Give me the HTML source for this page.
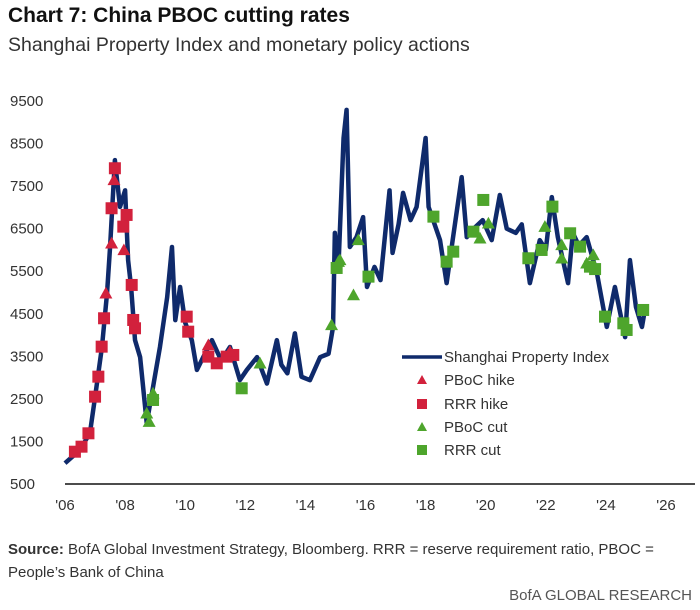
<!DOCTYPE html>
<html><head><meta charset="utf-8"><style>
body{margin:0;background:#fff;width:700px;height:610px;overflow:hidden;font-family:"Liberation Sans",sans-serif;}
.t{position:absolute;white-space:nowrap;color:#222}
</style></head><body>
<div class="t" style="left:8px;top:4px;font-size:21px;font-weight:bold;color:#111">Chart 7: China PBOC cutting rates</div>
<div class="t" style="left:8px;top:34px;font-size:19.5px;color:#333">Shanghai Property Index and monetary policy actions</div>
<svg id="c" width="700" height="530" style="position:absolute;left:0;top:0"></svg>
<div class="t" style="left:8px;top:538px;font-size:15px;line-height:23px;color:#333;white-space:normal;width:690px"><b>Source:</b> BofA Global Investment Strategy, Bloomberg. RRR = reserve requirement ratio, PBOC =<br>People’s Bank of China</div>
<div class="t" style="right:8px;top:587px;font-size:15px;color:#555">BofA GLOBAL RESEARCH</div>
<script>
const yTicks=[500,1500,2500,3500,4500,5500,6500,7500,8500,9500];
const xTicks=[2006,2008,2010,2012,2014,2016,2018,2020,2022,2024,2026];
const xLabels=["'06","'08","'10","'12","'14","'16","'18","'20","'22","'24","'26"];
const lineYears=[2006.0,2006.5,2006.83,2007.0,2007.23,2007.4,2007.5,2007.6,2007.66,2007.83,2008.0,2008.1,2008.2,2008.33,2008.5,2008.72,2008.93,2009.16,2009.4,2009.56,2009.67,2009.83,2010.0,2010.22,2010.39,2010.6,2010.89,2011.2,2011.49,2011.82,2012.05,2012.39,2012.72,2013.05,2013.2,2013.4,2013.65,2013.87,2014.15,2014.49,2014.77,2014.92,2014.98,2015.1,2015.27,2015.37,2015.48,2015.7,2015.92,2016.05,2016.3,2016.5,2016.8,2016.9,2017.1,2017.25,2017.5,2017.7,2018.0,2018.1,2018.3,2018.48,2018.7,2018.9,2019.2,2019.37,2019.6,2019.9,2020.2,2020.47,2020.7,2021.0,2021.2,2021.47,2021.8,2022.0,2022.2,2022.4,2022.74,2022.9,2023.1,2023.36,2023.7,2024.03,2024.3,2024.64,2024.8,2025.0,2025.2,2025.3];
const lineValues=[990,1300,1700,2540,3720,4990,6070,7340,8110,7010,7400,5760,5130,3880,3480,1930,2780,3720,4890,6070,4350,5130,4290,3880,3180,3480,3880,3400,3720,2940,3180,3480,2860,3880,3300,3100,4040,3020,2940,3480,3560,4190,6400,5600,8630,9290,6070,6300,6770,5130,5600,5290,7400,5930,6600,7340,6700,7010,8630,7010,6600,6230,5220,6230,7710,6300,6500,6700,6230,7290,6500,6400,6600,5220,6230,6000,7240,6300,5220,6400,6100,6300,5460,4190,5130,3950,5760,4660,4190,4600];
const hikeTriYears=[2007.36,2007.55,2007.63,2007.96,2010.77,2011.49];
const hikeTriValues=[4981,6156,7644,5999,3766,3609];
const hikeSqYears=[2006.33,2006.55,2006.78,2007.0,2007.11,2007.22,2007.3,2007.55,2007.66,2007.94,2008.05,2008.22,2008.27,2008.33,2010.05,2010.1,2010.77,2011.05,2011.38,2011.6];
const hikeSqValues=[1259,1377,1691,2552,3022,3727,4394,6979,7919,6547,6822,5177,4354,4159,4432,4079,3492,3336,3492,3532];
const cutTriYears=[2008.72,2008.8,2008.93,2012.49,2014.87,2015.15,2015.1,2015.6,2015.76,2019.81,2020.09,2021.97,2022.53,2022.53,2023.36,2023.58];
const cutTriValues=[2161,1964,2631,3336,4237,5764,5724,4941,6234,6274,6626,6547,6117,5804,5686,5882];
const cutSqYears=[2008.93,2011.88,2015.04,2016.1,2018.26,2018.7,2018.92,2019.59,2019.92,2021.42,2021.86,2022.22,2022.81,2023.14,2023.47,2023.64,2023.97,2024.58,2024.69,2025.24];
const cutSqValues=[2474,2749,5576,5372,6782,5724,5959,6429,7174,5804,5999,7017,6391,6077,5607,5550,4432,4275,4119,4589];

const NS='http://www.w3.org/2000/svg',svg=document.getElementById('c');
const X=v=>65+(v-2006)*30.05, Y=v=>484-(v-500)*42.56/1000;
function mk(t,a,p){const e=document.createElementNS(NS,t);for(const k in a)e.setAttribute(k,a[k]);(p||svg).appendChild(e);return e;}
const NAVY='#0f2a6b',RED='#d2213c',GREEN='#4ea52c';
yTicks.forEach(v=>{const e=mk('text',{x:10,y:Y(v)+5,'font-size':15,fill:'#333'});e.textContent=v;

});
xTicks.forEach((v,i)=>{const e=mk('text',{x:X(v),y:510,'font-size':15,fill:'#333','text-anchor':'middle'});e.textContent=xLabels[i];

});
const ax=mk('line',{x1:65,x2:695,y1:484,y2:484,stroke:'#111','stroke-width':1.5});


const ln=mk('polyline',{points:lineYears.map((y,i)=>X(y)+','+Y(lineValues[i])).join(' '),fill:'none',stroke:NAVY,'stroke-width':4.5,'stroke-linejoin':'round'});


function tri(cx,cy,c,s){return mk('polygon',{points:`${cx},${cy-s} ${cx-s},${cy+s*0.8} ${cx+s},${cy+s*0.8}`,fill:c});}
function sq(cx,cy,c,s){return mk('rect',{x:cx-s,y:cy-s,width:2*s,height:2*s,fill:c});}
hikeSqYears.forEach((y,i)=>{const e=sq(X(y),Y(hikeSqValues[i]),RED,6);

});
hikeTriYears.forEach((y,i)=>{const e=tri(X(y),Y(hikeTriValues[i]),RED,6.5);

});
cutSqYears.forEach((y,i)=>{const e=sq(X(y),Y(cutSqValues[i]),GREEN,6);

});
cutTriYears.forEach((y,i)=>{const e=tri(X(y),Y(cutTriValues[i]),GREEN,6.5);

});
const lg=mk('g',{});


mk('line',{x1:402,x2:442,y1:357,y2:357,stroke:NAVY,'stroke-width':3.5},lg);
tri(422,380,RED,5);sq(422,404,RED,5);tri(422,427,GREEN,5);sq(422,450,GREEN,5);
[['Shanghai Property Index',357],['PBoC hike',380],['RRR hike',404],['PBoC cut',427],['RRR cut',450]].forEach(([t,y])=>{
const e=mk('text',{x:444,y:y+5,'font-size':15,fill:'#333'},lg);e.textContent=t;

});
</script>
</body></html>
